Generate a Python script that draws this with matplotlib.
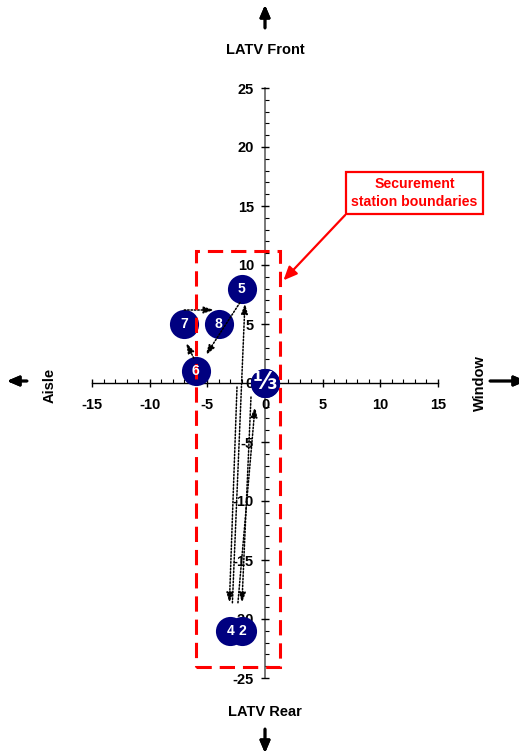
import matplotlib
matplotlib.use("Agg")
import matplotlib.pyplot as plt
from matplotlib.patches import Rectangle
from matplotlib.ticker import MultipleLocator
from matplotlib.transforms import offset_copy

plt.rcParams["font.family"] = ["Liberation Sans", "DejaVu Sans"]
plt.rcParams["font.weight"] = "bold"
plt.rcParams["axes.unicode_minus"] = False

# wheelchair positions, in the order they were taken
POSITION_LABELS = ["1", "2", "3", "4", "5", "6", "7", "8"]
POSITION_X = [0, -2, 0, -3, -2, -6, -7, -4]
POSITION_Y = [0, -21, 0, -21, 8, 1, 5, 5]

# moves between positions (from index, to index)
MOVES = [(0, 1), (1, 2), (2, 3), (3, 4), (4, 5), (5, 6), (6, 7)]

# securement station boundary box
BOUNDARY_X = [-6, 1.3]
BOUNDARY_Y = [-24.1, 11.2]

CALLOUT_TEXT = "Securement\nstation boundaries"
CALLOUT_TARGET = (1.6, 8.7)
CALLOUT_XY = (12.95, 16.1)

X_TICKS = [-15, -10, -5, 0, 5, 10, 15]
Y_TICKS = [-25, -20, -15, -10, -5, 0, 5, 10, 15, 20, 25]

NAVY = "#000080"
RED = "#ff0000"

# where each arrow leaves / meets the markers, in pixels from the marker centre
MOVE_START_OFFSET = [(-14, -14), (-4, 28), (-28, -4), (2, 28), (-2, -14), (-2, 13), (0, 14)]
MOVE_END_OFFSET = [(0, 28), (-10, -24), (-1, 28), (3, -15), (10, 16), (2, -19), (-5, 14)]


def main():
    figure = plt.figure(figsize=(5.19, 7.55), dpi=100)
    axis = figure.add_axes([92 / 519, 77 / 755, 346 / 519, 590 / 755])
    axis.set_xlim(-15, 15)
    axis.set_ylim(-25, 25)

    for side in ["top", "right"]:
        axis.spines[side].set_visible(False)
    axis.spines["left"].set_position(("data", 0))
    axis.spines["bottom"].set_position(("data", 0))
    axis.spines["left"].set_color("#606060")
    axis.spines["left"].set_linewidth(1.2)
    axis.spines["bottom"].set_linewidth(1.0)
    for spine in axis.spines.values():
        spine.set_zorder(1)

    axis.set_xticks(X_TICKS)
    axis.set_yticks(Y_TICKS)
    axis.xaxis.set_minor_locator(MultipleLocator(1))
    axis.yaxis.set_minor_locator(MultipleLocator(1))
    axis.tick_params(which="major", direction="inout", length=6, width=1.0, labelsize=10.5)
    axis.tick_params(which="minor", direction="in", length=2.6, width=0.8)
    axis.tick_params(axis="x", which="major", pad=8)
    axis.tick_params(axis="y", which="major", pad=5)
    for label in axis.get_xticklabels() + axis.get_yticklabels():
        label.set_fontweight("bold")

    # position markers
    axis.scatter(POSITION_X, POSITION_Y, s=440, color=NAVY, zorder=2, linewidths=0)
    groups = {}
    for label, x, y in zip(POSITION_LABELS, POSITION_X, POSITION_Y):
        groups.setdefault((x, y), []).append(label)
    for (x, y), labels in groups.items():
        if len(labels) == 1:
            axis.text(x, y, labels[0], color="white", fontsize=10, fontweight="bold",
                      ha="center", va="center", zorder=6)
        else:
            axis.text(x, y + 0.1, "\u2153", color="white", fontsize=17, fontweight="bold",
                      ha="center", va="center", zorder=6, family=["DejaVu Sans"])

    # dotted movement arrows
    for (start, end), start_offset, end_offset in zip(MOVES, MOVE_START_OFFSET, MOVE_END_OFFSET):
        start_transform = offset_copy(axis.transData, figure, x=start_offset[0], y=start_offset[1], units="dots")
        end_transform = offset_copy(axis.transData, figure, x=end_offset[0], y=end_offset[1], units="dots")
        axis.annotate("", xy=(POSITION_X[end], POSITION_Y[end]), xycoords=end_transform,
                      xytext=(POSITION_X[start], POSITION_Y[start]), textcoords=start_transform,
                      arrowprops=dict(arrowstyle="-|>,head_length=0.6,head_width=0.2",
                                      linestyle=(0, (1, 1.2)), lw=1.1, color="black",
                                      shrinkA=0, shrinkB=0),
                      zorder=3)

    # securement station box
    box = Rectangle((BOUNDARY_X[0], BOUNDARY_Y[0]), BOUNDARY_X[1] - BOUNDARY_X[0],
                    BOUNDARY_Y[1] - BOUNDARY_Y[0], fill=False, edgecolor=RED,
                    linewidth=2.2, linestyle=(0, (5, 2.6)), zorder=4)
    axis.add_patch(box)

    axis.annotate(CALLOUT_TEXT, xy=CALLOUT_TARGET, xytext=CALLOUT_XY,
                  ha="center", va="center", color=RED, fontsize=10.2, fontweight="bold",
                  linespacing=1.3,
                  bbox=dict(boxstyle="square,pad=0.4", facecolor="white", edgecolor=RED, linewidth=1.6),
                  arrowprops=dict(arrowstyle="-|>,head_length=0.8,head_width=0.35", color=RED,
                                  lw=1.6, relpos=(0, 0), shrinkA=0, shrinkB=0),
                  zorder=5)

    # direction labels and arrows around the plot
    arrow_props = dict(arrowstyle="-|>,head_length=0.7,head_width=0.3", color="black", lw=2.0,
                       shrinkA=0, shrinkB=0)
    figure.text(265 / 519, 1 - 50 / 755, "LATV Front", ha="center", va="center", fontsize=10.5, fontweight="bold")
    figure.text(265 / 519, 1 - 712 / 755, "LATV Rear", ha="center", va="center", fontsize=10.5, fontweight="bold")
    figure.text(50 / 519, 1 - 385 / 755, "Aisle", ha="center", va="center", rotation=90, fontsize=10.5, fontweight="bold")
    figure.text(480 / 519, 1 - 383 / 755, "Window", ha="center", va="center", rotation=90, fontsize=10.5, fontweight="bold")
    figure.add_artist(plt.annotate("", xy=(265, 750), xytext=(265, 727), xycoords="figure pixels",
                                   textcoords="figure pixels", arrowprops=arrow_props))
    figure.add_artist(plt.annotate("", xy=(265, 2), xytext=(265, 26), xycoords="figure pixels",
                                   textcoords="figure pixels", arrowprops=arrow_props))
    figure.add_artist(plt.annotate("", xy=(7, 374), xytext=(27, 374), xycoords="figure pixels",
                                   textcoords="figure pixels", arrowprops=arrow_props))
    figure.add_artist(plt.annotate("", xy=(526, 374), xytext=(490, 374), xycoords="figure pixels",
                                   textcoords="figure pixels", arrowprops=arrow_props))

    figure.savefig("out.png", dpi=100)
    plt.close(figure)


if __name__ == "__main__":
    main()
